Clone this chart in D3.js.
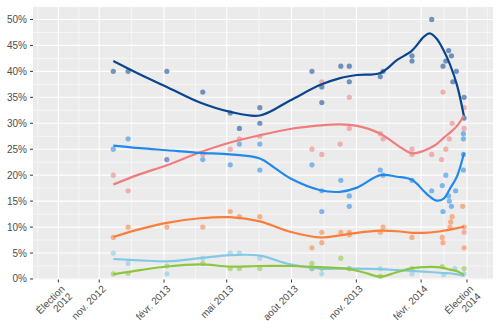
<!DOCTYPE html>
<html><head><meta charset="utf-8">
<script src="https://cdn.jsdelivr.net/npm/d3@7"></script>
<style>
body{margin:0;background:#fff}
svg{display:block}
text{font-family:"Liberation Sans",Arial,Helvetica,sans-serif}
</style>
</head><body>
<svg id="chart" width="500" height="334"></svg>
<script>
// ---------- data ----------
const xTickDates  = ["2012-09-04","2012-11-01","2013-02-01","2013-05-01","2013-08-01","2013-11-01","2014-02-01","2014-04-07"];
const xTickLabels = ["Élection\n2012","nov. 2012","févr. 2013","mai 2013","août 2013","nov. 2013","févr. 2014","Élection\n2014"];
const yTickValues = [0,5,10,15,20,25,30,35,40,45,50];
const yTickLabels = ["0%","5%","10%","15%","20%","25%","30%","35%","40%","45%","50%"];

const seriesNames  = ["bleu foncé","rouge","bleu","orange","bleu clair","vert"];
const seriesColors = ["#0A4590","#F07C7C","#2189EC","#FA7D3A","#84C8E6","#8CC63E"];

// poll results: [date, %]
const pointsDarkBlue = [["2012-11-21",40],["2012-12-12",40],["2013-02-05",40],["2013-03-28",36],["2013-05-06",32],["2013-05-19",29],["2013-06-17",33],["2013-06-17",30],["2013-08-30",40],["2013-09-13",37],["2013-09-13",34],["2013-10-10",41],["2013-10-22",41],["2013-10-22",38],["2013-12-05",39],["2013-12-09",40],["2014-01-19",43],["2014-01-19",42],["2014-02-16",50],["2014-03-04",41],["2014-03-08",42],["2014-03-12",44],["2014-03-16",43],["2014-03-18",38],["2014-03-23",40],["2014-04-03",35],["2014-04-03",31]];
const pointsRed = [["2012-11-21",20],["2012-12-12",17],["2013-02-05",23],["2013-03-28",24],["2013-05-06",25],["2013-05-19",27],["2013-06-17",27.5],["2013-08-30",25],["2013-09-13",38],["2013-09-13",24],["2013-10-09",26],["2013-10-22",35],["2013-10-22",29],["2013-12-05",28],["2013-12-09",27],["2014-01-19",25],["2014-01-19",24],["2014-02-16",24],["2014-03-02",23],["2014-03-04",36],["2014-03-08",25],["2014-03-13",27],["2014-03-17",30],["2014-04-03",33],["2014-04-03",29],["2014-04-03",9]];
const pointsBlue = [["2012-11-21",25],["2012-12-12",27],["2013-02-05",23],["2013-03-28",23],["2013-05-06",22],["2013-05-19",26],["2013-06-17",26],["2013-06-17",21],["2013-08-30",22],["2013-09-13",17],["2013-09-13",13],["2013-10-10",19],["2013-10-22",16],["2013-10-22",14],["2013-12-05",21],["2013-12-09",20],["2014-01-19",19],["2014-02-16",17],["2014-03-03",18],["2014-03-04",13],["2014-03-08",20],["2014-03-12",16],["2014-03-13",15],["2014-03-16",14],["2014-03-22",17],["2014-04-02",28],["2014-04-02",27],["2014-04-02",24],["2014-04-02",21]];
const pointsOrange = [["2012-11-21",8],["2012-12-12",10],["2013-02-05",10],["2013-03-28",10],["2013-05-06",13],["2013-05-19",12],["2013-06-17",12],["2013-08-30",6],["2013-09-13",9],["2013-09-13",7],["2013-10-10",9],["2013-10-22",9],["2013-10-22",8.5],["2013-12-05",9],["2013-12-09",10],["2014-01-19",8],["2014-03-03",8],["2014-03-04",7],["2014-03-14",10],["2014-03-15",11],["2014-03-17",12],["2014-04-01",14],["2014-04-03",10],["2014-04-03",6]];
const pointsLightBlue = [["2012-11-21",5],["2012-12-12",3],["2013-02-05",1],["2013-03-28",4],["2013-05-06",5],["2013-05-19",5],["2013-06-17",4],["2013-08-30",2],["2013-09-13",1],["2013-10-22",2],["2013-12-05",2],["2014-01-19",1],["2014-03-05",0.8],["2014-03-21",2],["2014-04-03",1]];
const pointsGreen = [["2012-11-21",1],["2012-12-12",1.1],["2013-02-05",2.5],["2013-03-28",3],["2013-05-06",2],["2013-05-19",2],["2013-06-17",2],["2013-08-30",3],["2013-08-30",2],["2013-09-13",2],["2013-10-10",4],["2013-10-22",2],["2013-12-05",0.5],["2014-01-19",2],["2014-03-03",2.4],["2014-04-03",2]];

// smoothed trends: [date, %]
const trendDarkBlue = [["2012-11-21",42],["2012-12-29",39.4],["2013-02-05",37],["2013-03-24",34],["2013-05-06",32.2],["2013-06-17",31.5],["2013-07-30",34.4],["2013-09-11",37.4],["2013-10-09",38.7],["2013-11-02",39.3],["2013-12-05",39.7],["2013-12-29",42.2],["2014-01-19",44],["2014-02-05",46.7],["2014-02-13",47.3],["2014-02-23",46.3],["2014-03-05",44],["2014-03-14",41.3],["2014-03-24",37.3],["2014-04-03",31.2]];
const trendRed = [["2012-11-21",18.2],["2012-12-29",20.2],["2013-02-05",21.9],["2013-03-24",24.4],["2013-05-06",26.3],["2013-06-17",27.7],["2013-07-30",28.9],["2013-09-11",29.6],["2013-10-09",29.8],["2013-11-02",29.5],["2013-12-05",28],["2013-12-29",25.8],["2014-01-19",24.2],["2014-02-05",24.7],["2014-02-13",25.2],["2014-02-23",26],["2014-03-05",27.2],["2014-03-14",28.2],["2014-03-24",29.5],["2014-04-03",31.5]];
const trendBlue = [["2012-11-21",25.7],["2012-12-29",25.2],["2013-02-05",24.8],["2013-03-24",24.3],["2013-05-06",24],["2013-06-17",23.2],["2013-07-08",21.4],["2013-07-30",19.4],["2013-09-11",17.1],["2013-10-09",16.8],["2013-11-02",17.6],["2013-12-05",20],["2013-12-29",19.7],["2014-01-19",19.1],["2014-02-05",16.9],["2014-02-13",15.9],["2014-02-23",15.1],["2014-03-05",15.5],["2014-03-14",17.4],["2014-03-24",19.8],["2014-04-03",24.3]];
const trendOrange = [["2012-11-21",8.1],["2012-12-29",9.6],["2013-02-05",10.8],["2013-03-24",11.7],["2013-05-06",11.9],["2013-06-17",11.1],["2013-07-30",9.1],["2013-09-11",8],["2013-10-09",8.4],["2013-11-02",8.9],["2013-12-05",9.3],["2013-12-29",9.2],["2014-01-19",8.9],["2014-02-05",8.9],["2014-02-23",9.1],["2014-03-05",9.3],["2014-03-14",9.5],["2014-03-24",9.8],["2014-04-03",10.1]];
const trendLightBlue = [["2012-11-21",3.85],["2012-12-29",3.6],["2013-02-05",3.4],["2013-03-24",4],["2013-05-06",4.6],["2013-06-17",4.5],["2013-07-30",2.8],["2013-09-11",2],["2013-10-09",2],["2013-11-02",2],["2013-12-05",1.9],["2013-12-29",1.7],["2014-01-19",1.55],["2014-02-05",1.4],["2014-02-23",1.25],["2014-03-05",1.15],["2014-03-14",1.1],["2014-03-24",0.9],["2014-04-03",0.6]];
const trendGreen = [["2012-11-21",0.9],["2012-12-29",1.7],["2013-02-05",2.4],["2013-03-24",2.8],["2013-05-06",2.4],["2013-06-17",2.5],["2013-07-30",2.5],["2013-09-11",2.3],["2013-10-23",1.9],["2013-11-13",1.2],["2013-12-05",0.45],["2013-12-26",1.2],["2014-01-19",2.1],["2014-02-05",2.3],["2014-02-23",2.3],["2014-03-05",2.1],["2014-03-14",1.8],["2014-03-24",1.5],["2014-04-03",0.8]];

const xLimits = ["2012-07-30","2014-05-14"];
const yLimits = [-0.1, 52.4];

// ---------- drawing ----------
const parse = d3.utcParse("%Y-%m-%d");
const pointSets = [pointsDarkBlue,pointsRed,pointsBlue,pointsOrange,pointsLightBlue,pointsGreen];
const trendSets = [trendDarkBlue,trendRed,trendBlue,trendOrange,trendLightBlue,trendGreen];

const svg = d3.select("#chart");
const x = d3.scaleUtc().domain(xLimits.map(parse)).range([33, 493]);
const y = d3.scaleLinear().domain(yLimits).range([279.5, 7]);

const [px0, px1] = x.range();
const [py0, py1] = y.range();

svg.append("rect").attr("x", px0).attr("y", py1).attr("width", px1 - px0).attr("height", py0 - py1).attr("fill", "#EBEBEB");

// minor grid
const xMaj = xTickDates.map(parse);
const xMin = [];
const step = xMaj[1] - xMaj[0];
const ext = [new Date(+xMaj[0] - step), ...xMaj, new Date(+xMaj[xMaj.length-1] + step)];
for (let i = 0; i < ext.length - 1; i++) xMin.push(new Date((+ext[i] + +ext[i+1]) / 2));
const grid = svg.append("g");
grid.selectAll(".xmin").data(xMin.filter(d => d >= x.domain()[0] && d <= x.domain()[1])).join("line")
  .attr("x1", d => x(d)).attr("x2", d => x(d)).attr("y1", py0).attr("y2", py1)
  .attr("stroke", "#fff").attr("stroke-width", 0.55);
const yMin = yTickValues.slice(0, -1).map((v, i) => (v + yTickValues[i+1]) / 2);
grid.selectAll(".ymin").data(yMin).join("line")
  .attr("x1", px0).attr("x2", px1).attr("y1", d => y(d)).attr("y2", d => y(d))
  .attr("stroke", "#fff").attr("stroke-width", 0.55);
grid.selectAll(".xmaj").data(xMaj).join("line")
  .attr("x1", d => x(d)).attr("x2", d => x(d)).attr("y1", py0).attr("y2", py1)
  .attr("stroke", "#fff").attr("stroke-width", 1.1);
grid.selectAll(".ymaj").data(yTickValues).join("line")
  .attr("x1", px0).attr("x2", px1).attr("y1", d => y(d)).attr("y2", d => y(d))
  .attr("stroke", "#fff").attr("stroke-width", 1.1);

// points
pointSets.forEach((pts, i) => {
  svg.append("g").selectAll("circle").data(pts).join("circle")
    .attr("cx", d => x(parse(d[0]))).attr("cy", d => y(d[1])).attr("r", 2.6)
    .attr("fill", seriesColors[i]).attr("fill-opacity", 0.55);
});

// trend lines
const line = d3.line().x(d => x(parse(d[0]))).y(d => y(d[1])).curve(d3.curveCatmullRom.alpha(0.5));
trendSets.forEach((t, i) => {
  svg.append("path").datum(t).attr("d", line).attr("fill", "none")
    .attr("stroke", seriesColors[i]).attr("stroke-width", 2.2).attr("stroke-linecap", "butt");
});

// y axis
const yAxis = svg.append("g");
yAxis.selectAll("line").data(yTickValues).join("line")
  .attr("x1", px0 - 3).attr("x2", px0).attr("y1", d => y(d)).attr("y2", d => y(d))
  .attr("stroke", "#333").attr("stroke-width", 1);
yAxis.selectAll("text").data(yTickValues).join("text")
  .attr("x", px0 - 6).attr("y", d => y(d)).attr("dy", "0.35em")
  .attr("text-anchor", "end").attr("font-size", 10).attr("fill", "#4D4D4D")
  .text((d, i) => yTickLabels[i]);

// x axis
const xAxis = svg.append("g");
xAxis.selectAll("line").data(xMaj).join("line")
  .attr("x1", d => x(d)).attr("x2", d => x(d)).attr("y1", py0).attr("y2", py0 + 3)
  .attr("stroke", "#333").attr("stroke-width", 1);
const lab = xAxis.selectAll("text").data(xMaj).join("text")
  .attr("transform", d => `translate(${x(d) + 2},${py0 + 5}) rotate(-45)`)
  .attr("text-anchor", "end").attr("font-size", 10).attr("fill", "#4D4D4D");
lab.each(function(d, i) {
  const lines = xTickLabels[i].split("\n");
  const t = d3.select(this);
  lines.forEach((s, k) => {
    t.append("tspan").attr("x", 0).attr("dy", k === 0 ? "0.72em" : "1.05em").text(s);
  });
});
</script>
</body></html>
